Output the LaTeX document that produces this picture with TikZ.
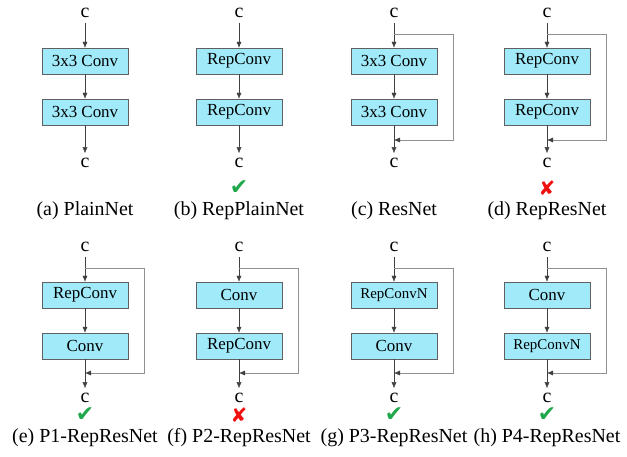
\documentclass[tikz,border=0pt]{standalone}
\usepackage{fontspec}
\setmainfont{Liberation Serif}
\newfontfamily\symfont{DejaVu Sans}
\usepackage{xcolor}
\usepackage{tikz}
\usetikzlibrary{arrows.meta}

\definecolor{boxfill}{HTML}{A0EAFA}
\definecolor{boxline}{HTML}{606060}
\definecolor{skipline}{HTML}{909090}
\definecolor{okgreen}{HTML}{1FA84A}
\definecolor{badred}{HTML}{F01010}

\tikzset{
  conv/.style={draw=boxline,fill=boxfill,minimum width=86bp,minimum height=26bp,inner sep=0pt,font=\fontsize{17}{20}\selectfont},
  convn/.style={conv,font=\fontsize{15}{18}\selectfont},
  cnode/.style={inner sep=0pt,outer sep=5pt,font=\fontsize{20}{24}\selectfont},
  caption/.style={inner sep=0pt,font=\fontsize{20}{24}\selectfont},
  flow/.style={draw=black!75,-{Latex[length=6bp,width=5bp]}},
  skip/.style={draw=skipline,-{Latex[length=6bp,width=5bp,color=black!75]}},
  good/.style={inner sep=0pt,text=okgreen,font=\symfont\fontsize{22}{24}\selectfont},
  bad/.style={inner sep=0pt,text=badred,font=\symfont\fontsize{20}{22}\selectfont}
}

\begin{document}
\begin{tikzpicture}[x=1bp,y=-1bp]
  \useasboundingbox (0,0) rectangle (627,457);

  % top row
  % (a) plain
  \node[cnode] (aIn) at (85,13) {c};
  \node[conv] (aOne) at (85,61) {3x3 Conv};
  \node[conv] (aTwo) at (85,112) {3x3 Conv};
  \node[cnode] (aOut) at (85,163) {c};
  \node[caption] (aCap) at (85,211) {(a) PlainNet};
  \draw[flow] (aIn) -- (aOne);
  \draw[flow] (aOne) -- (aTwo);
  \draw[flow] (aTwo) -- (aOut);

  % (b) rep plain
  \node[cnode] (bIn) at (239,13) {c};
  \node[conv] (bOne) at (239,61) {RepConv};
  \node[conv] (bTwo) at (239,112) {RepConv};
  \node[cnode] (bOut) at (239,163) {c};
  \node[good] (bMark) at (239,188) {✔};
  \node[caption] (bCap) at (239,211) {(b) RepPlainNet};
  \draw[flow] (bIn) -- (bOne);
  \draw[flow] (bOne) -- (bTwo);
  \draw[flow] (bTwo) -- (bOut);

  % (c) res
  \node[cnode] (cIn) at (394,13) {c};
  \node[conv] (cOne) at (394,61) {3x3 Conv};
  \node[conv] (cTwo) at (394,112) {3x3 Conv};
  \node[cnode] (cOut) at (394,163) {c};
  \node[caption] (cCap) at (394,211) {(c) ResNet};
  \coordinate (cSplit) at (394,34);
  \coordinate (cJoin) at (394,140);
  \draw[flow] (cIn) -- (cOne);
  \draw[flow] (cOne) -- (cTwo);
  \draw[flow] (cTwo) -- (cOut);
  \draw[skip] (cSplit) -- ++(59,0) |- (cJoin);

  % (d) rep res
  \node[cnode] (dIn) at (547,13) {c};
  \node[conv] (dOne) at (547,61) {RepConv};
  \node[conv] (dTwo) at (547,112) {RepConv};
  \node[cnode] (dOut) at (547,163) {c};
  \node[bad] (dMark) at (547,188) {✘};
  \node[caption] (dCap) at (547,211) {(d) RepResNet};
  \coordinate (dSplit) at (547,34);
  \coordinate (dJoin) at (547,140);
  \draw[flow] (dIn) -- (dOne);
  \draw[flow] (dOne) -- (dTwo);
  \draw[flow] (dTwo) -- (dOut);
  \draw[skip] (dSplit) -- ++(59,0) |- (dJoin);

  % bottom row
  % (e) P1
  \node[cnode] (eIn) at (85,247) {c};
  \node[conv] (eOne) at (85,295) {RepConv};
  \node[conv] (eTwo) at (85,346) {Conv};
  \node[cnode] (eOut) at (85,398) {c};
  \node[good] (eMark) at (85,415) {✔};
  \node[caption] (eCap) at (85,438) {(e) P1-RepResNet};
  \coordinate (eSplit) at (85,268);
  \coordinate (eJoin) at (85,373);
  \draw[flow] (eIn) -- (eOne);
  \draw[flow] (eOne) -- (eTwo);
  \draw[flow] (eTwo) -- (eOut);
  \draw[skip] (eSplit) -- ++(59,0) |- (eJoin);

  % (f) P2
  \node[cnode] (fIn) at (239,247) {c};
  \node[conv] (fOne) at (239,295) {Conv};
  \node[conv] (fTwo) at (239,346) {RepConv};
  \node[cnode] (fOut) at (239,398) {c};
  \node[bad] (fMark) at (239,415) {✘};
  \node[caption] (fCap) at (239,438) {(f) P2-RepResNet};
  \coordinate (fSplit) at (239,268);
  \coordinate (fJoin) at (239,373);
  \draw[flow] (fIn) -- (fOne);
  \draw[flow] (fOne) -- (fTwo);
  \draw[flow] (fTwo) -- (fOut);
  \draw[skip] (fSplit) -- ++(59,0) |- (fJoin);

  % (g) P3
  \node[cnode] (gIn) at (394,247) {c};
  \node[convn] (gOne) at (394,295) {RepConvN};
  \node[conv] (gTwo) at (394,346) {Conv};
  \node[cnode] (gOut) at (394,398) {c};
  \node[good] (gMark) at (394,415) {✔};
  \node[caption] (gCap) at (394,438) {(g) P3-RepResNet};
  \coordinate (gSplit) at (394,268);
  \coordinate (gJoin) at (394,373);
  \draw[flow] (gIn) -- (gOne);
  \draw[flow] (gOne) -- (gTwo);
  \draw[flow] (gTwo) -- (gOut);
  \draw[skip] (gSplit) -- ++(59,0) |- (gJoin);

  % (h) P4
  \node[cnode] (hIn) at (547,247) {c};
  \node[conv] (hOne) at (547,295) {Conv};
  \node[convn] (hTwo) at (547,346) {RepConvN};
  \node[cnode] (hOut) at (547,398) {c};
  \node[good] (hMark) at (547,415) {✔};
  \node[caption] (hCap) at (547,438) {(h) P4-RepResNet};
  \coordinate (hSplit) at (547,268);
  \coordinate (hJoin) at (547,373);
  \draw[flow] (hIn) -- (hOne);
  \draw[flow] (hOne) -- (hTwo);
  \draw[flow] (hTwo) -- (hOut);
  \draw[skip] (hSplit) -- ++(59,0) |- (hJoin);
\end{tikzpicture}
\end{document}
